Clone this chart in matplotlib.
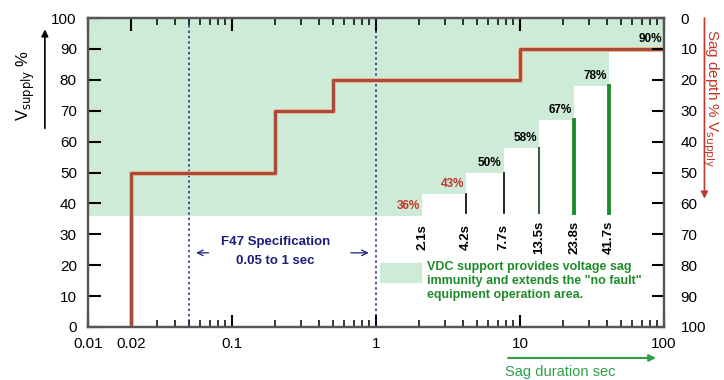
import matplotlib.pyplot as plt
from matplotlib.patches import Rectangle, FancyArrowPatch

plt.rcParams['font.family'] = ['Liberation Sans', 'DejaVu Sans']

# F47 voltage sag curve (duration s, remaining Vsupply %)
f47_t = [0.02, 0.02, 0.2, 0.5, 10, 100]
f47_v = [0, 50, 70, 80, 90, 90]

# VDC ride-through steps: step edges (s) and minimum supply level (%)
vdc_edges = [0.01, 2.1, 4.2, 7.7, 13.5, 23.8, 41.7, 100]
vdc_levels = [36, 43, 50, 58, 67, 78, 90]
duration_labels = ["2.1s", "4.2s", "7.7s", "13.5s", "23.8s", "41.7s"]
level_labels = ["36%", "43%", "50%", "58%", "67%", "78%", "90%"]

x_ticks = [0.01, 0.02, 0.1, 1, 10, 100]
x_ticklabels = ["0.01", "0.02", "0.1", "1", "10", "100"]

fig = plt.figure(figsize=(7.24, 3.8), dpi=100)
ax = fig.add_axes([0.1215, 0.1395, 0.7955, 0.8131])

green_fill = "#cdebd6"
red = "#c0392b"
navy = "#1c1c7a"
dkgreen = "#1e8c2a"

# shaded "no fault" area above the VDC steps
ax.fill_between(vdc_edges, vdc_levels + [vdc_levels[-1]], 100,
                step="post", color=green_fill, lw=0, zorder=1)

# F47 curve
ax.plot(f47_t, f47_v, drawstyle="steps-post", color="#f0b890", lw=3.6, zorder=3,
        solid_capstyle="butt")
ax.plot(f47_t, f47_v, drawstyle="steps-post", color="#a84a3c", lw=2.2, zorder=4,
        solid_capstyle="butt")

# spec window markers
for xv in (0.05, 1):
    ax.axvline(xv, color=navy, ls=(0, (1.5, 2)), lw=1.1, zorder=2)

# vertical markers and labels for each step
line_colors = ["black", "black", "black", "#3b5f3b", dkgreen, dkgreen]
line_widths = [1.2, 1.2, 1.2, 1.5, 2.8, 2.8]
for i, t in enumerate(vdc_edges[1:-1]):
    if vdc_levels[i] > 37:
        ax.plot([t, t], [37, vdc_levels[i]], color=line_colors[i],
                lw=line_widths[i], zorder=3)
    ax.text(t, 29, duration_labels[i], rotation=90, ha="center", va="center",
            fontsize=9.5, fontweight="bold", zorder=5)

for i, lab in enumerate(level_labels):
    col = red if i < 2 else "black"
    ax.text(vdc_edges[i + 1] * 0.97, vdc_levels[i] + 1.2, lab, ha="right",
            va="bottom", fontsize=8.5, fontweight="bold", color=col, zorder=5)

# F47 annotation
ax.text(0.2, 27.5, "F47 Specification", ha="center", va="center",
        fontsize=9.5, fontweight="bold", color=navy)
ax.text(0.2, 21.3, "0.05 to 1 sec", ha="center", va="center",
        fontsize=9.5, fontweight="bold", color=navy)
ax.annotate("", xy=(0.054, 24), xytext=(0.072, 24),
            arrowprops=dict(arrowstyle="->", color=navy, lw=0.9))
ax.annotate("", xy=(0.93, 24), xytext=(0.64, 24),
            arrowprops=dict(arrowstyle="->", color=navy, lw=0.9))

# legend box
ax.add_patch(Rectangle((1.07, 14.5), 0.97, 6.3, color=green_fill, zorder=2))
ax.text(2.25, 21.5, "VDC support provides voltage sag\nimmunity and extends the \"no fault\"\nequipment operation area.",
        ha="left", va="top", fontsize=9, fontweight="bold", color=dkgreen,
        linespacing=1.25, zorder=5)

ax.set_xscale("log")
ax.set_xlim(0.01, 100)
ax.set_ylim(0, 100)
ax.set_xticks(x_ticks)
ax.set_xticklabels(x_ticklabels)
ax.set_yticks(range(0, 101, 10))
ax.tick_params(which="both", direction="in", top=True, labelsize=11)
ax.tick_params(which="major", length=9, width=1.5)
ax.tick_params(which="minor", length=5, width=1.1)
ax.tick_params(axis="x", pad=7)
ax.tick_params(axis="y", pad=8)

ax2 = ax.twinx()
ax2.set_ylim(100, 0)
ax2.set_yticks(range(0, 101, 10))
ax2.tick_params(direction="in", length=9, width=1.5, labelsize=11, pad=12)

for a in (ax, ax2):
    for s in a.spines.values():
        s.set_color("#555555")
        s.set_linewidth(1.6)

# axis captions with arrows
fig.text(0.036, 0.775, r"V$_{\mathrm{supply}}$ %", rotation=90, ha="center",
         va="center", fontsize=12)
fig.patches.append(FancyArrowPatch(
    (0.062, 0.655), (0.062, 0.93), transform=fig.transFigure,
    arrowstyle="-|>", mutation_scale=10, color="black", lw=1.2))

fig.text(0.982, 0.74, r"Sag depth % V$_{\mathrm{supply}}$", rotation=-90,
         ha="center", va="center", fontsize=11, color=red)
fig.patches.append(FancyArrowPatch(
    (0.973, 0.96), (0.973, 0.47), transform=fig.transFigure,
    arrowstyle="-|>", mutation_scale=10, color=red, lw=1.2))

fig.patches.append(FancyArrowPatch(
    (0.698, 0.058), (0.91, 0.058), transform=fig.transFigure,
    arrowstyle="-|>", mutation_scale=10, color="#2ea043", lw=1.5))
fig.text(0.698, 0.022, "Sag duration sec", ha="left", va="center",
         fontsize=10.5, color="#2ea043")

fig.savefig("out.png", dpi=100)
